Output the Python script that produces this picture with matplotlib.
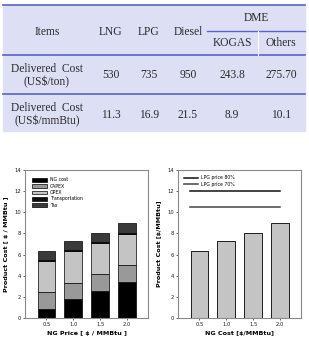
import matplotlib
matplotlib.use('Agg')
import matplotlib.pyplot as plt
import numpy as np

# Table data
fuels = ["LNG", "LPG", "Diesel"]
dme_cols = ["KOGAS", "Others"]
cost_ton = ["530", "735", "950", "243.8", "275.70"]
cost_btu = ["11.3", "16.9", "21.5", "8.9", "10.1"]

# Chart data
ng_price = [0.5, 1.0, 1.5, 2.0]
ng_cost = [0.85, 1.77, 2.58, 3.43]
capex = [1.58, 1.55, 1.58, 1.62]
opex = [2.97, 2.98, 2.92, 2.90]
transport = [0.12, 0.12, 0.12, 0.12]
tax = [0.85, 0.86, 0.87, 0.89]
lpg_80 = 12.0
lpg_70 = 10.5

W, H = 309, 339
fig = plt.figure(figsize=(W / 100, H / 100), dpi=100)
fig.patch.set_facecolor('white')

# ---- table (drawn in pixel coords) ----
tab = fig.add_axes([0, 0, 1, 1])
tab.set_xlim(0, W)
tab.set_ylim(H, 0)
tab.axis('off')
tab.add_patch(plt.Rectangle((3, 5), 302, 126, color='#dde0f4', zorder=0))
blue = '#5a64c8'
tab.plot([3, 305], [5, 5], color=blue, lw=1.2)
tab.plot([207, 305], [30.5, 30.5], color=blue, lw=1.0)
tab.plot([3, 305], [55, 55], color=blue, lw=1.2)
tab.plot([3, 305], [94, 94], color=blue, lw=1.2)
tab.plot([257.5, 257.5], [31, 55], color='white', lw=0.8)

serif = dict(family='Liberation Serif', fontsize=8.3, color='#2a2a2a',
             ha='center', va='center')
col_x = [111, 149, 188, 232, 281]
tab.text(47, 32, "Items", **serif)
for x, f in zip(col_x[:3], fuels):
    tab.text(x, 32, f, **serif)
tab.text(256, 18, "DME", **serif)
for x, d in zip(col_x[3:], dme_cols):
    tab.text(x, 43, d, **serif)
tab.text(47, 69, "Delivered  Cost", **serif)
tab.text(47, 82, "(US$/ton)", **serif)
tab.text(47, 108, "Delivered  Cost", **serif)
tab.text(47, 121, "(US$/mmBtu)", **serif)
for x, a, b in zip(col_x, cost_ton, cost_btu):
    tab.text(x, 75, a, **serif)
    tab.text(x, 115, b, **serif)

# ---- charts ----
def style_axes(ax, xlabel, ylabel):
    ax.set_xlim(0.1, 2.39)
    ax.set_ylim(0, 14)
    ax.set_xticks(ng_price)
    ax.set_xticklabels([f"{v:.1f}" for v in ng_price])
    ax.set_yticks(range(0, 15, 2))
    ax.tick_params(labelsize=3.8, length=1.5, width=0.5, pad=1.5, colors='#222222')
    for s in ax.spines.values():
        s.set_color('#8a8a8a')
        s.set_linewidth(0.8)
    ax.set_xlabel(xlabel, fontsize=4.6, fontweight='bold', labelpad=3)
    ax.set_ylabel(ylabel, fontsize=4.6, fontweight='bold', labelpad=4)

bw = 0.33
ax1 = fig.add_axes([25 / W, 21 / H, 123 / W, 148 / H])
layers = [("NG cost", ng_cost, '#000000'),
          ("CAPEX", capex, '#999999'),
          ("OPEX", opex, '#c4c4c4'),
          ("Transportation", transport, '#111111'),
          ("Tax", tax, '#3a3a3a')]
bottom = np.zeros(len(ng_price))
for name, vals, col in layers:
    ax1.bar(ng_price, vals, bw, bottom=bottom, color=col, edgecolor='black',
            linewidth=0.5, label=name)
    bottom += np.array(vals)
style_axes(ax1, "NG Price [ $ / MMBtu ]", "Product Cost [ $ / MMBtu ]")
ax1.legend(loc='upper left', fontsize=3.3, frameon=False, handlelength=3.2,
           handleheight=0.9, labelspacing=0.3, borderaxespad=1.2,
           handletextpad=0.6)

ax2 = fig.add_axes([178 / W, 21 / H, 123 / W, 148 / H])
ax2.bar(ng_price, bottom, bw, color='#c4c4c4', edgecolor='black', linewidth=0.6)
ax2.plot([0.32, 2.0], [lpg_80, lpg_80], color='#111111', lw=1.1, label="LPG price 80%")
ax2.plot([0.32, 2.0], [lpg_70, lpg_70], color='#444444', lw=1.1, label="LPG price 70%")
style_axes(ax2, "NG Cost [$/MMBtu]", "Product Cost [$/MMBtu]")
ax2.legend(loc='upper left', fontsize=3.3, frameon=False, handlelength=3.2,
           labelspacing=0.25, borderaxespad=0.8, handletextpad=0.6)

fig.savefig("out.png", dpi=100)
